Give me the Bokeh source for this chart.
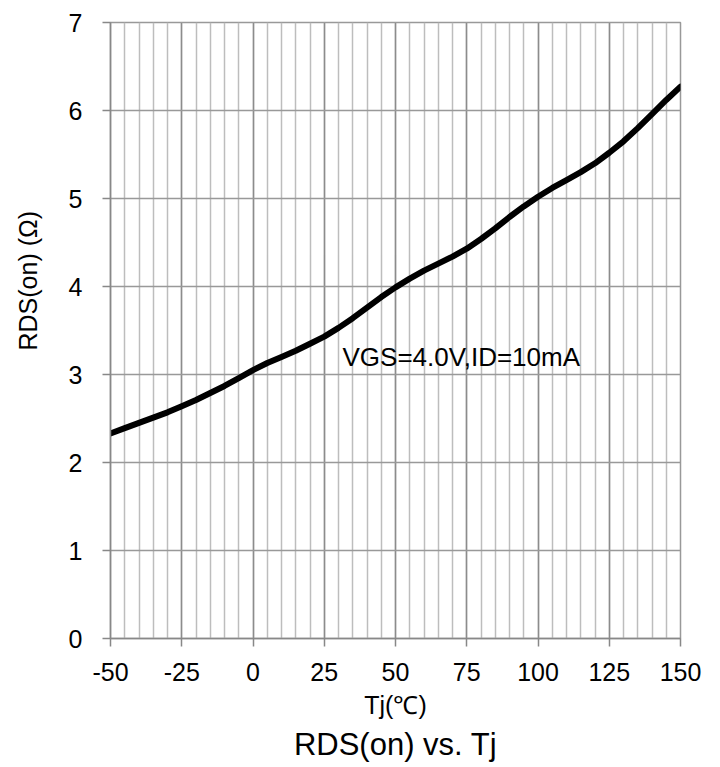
from bokeh.plotting import figure
from bokeh.models import (Range1d, SingleIntervalTicker, FixedTicker, Label, Title,
                          ColumnDataSource, LinearAxis)
from bokeh.embed import file_html
from bokeh.resources import INLINE

# Data
tj = [-50, -45, -40, -35, -30, -25, -20, -15, -10, -5, 0, 5, 10, 15, 20, 25, 30, 35, 40,
      45, 50, 55, 60, 65, 70, 75, 80, 85, 90, 95, 100, 105, 110, 115, 120, 125, 130,
      135, 140, 145, 150]
rds = [2.33, 2.39, 2.45, 2.51, 2.57, 2.64, 2.71, 2.79, 2.87, 2.96, 3.05, 3.13, 3.20,
       3.27, 3.35, 3.43, 3.53, 3.64, 3.76, 3.88, 3.99, 4.09, 4.18, 4.26, 4.34, 4.43,
       4.54, 4.66, 4.79, 4.91, 5.02, 5.12, 5.21, 5.30, 5.40, 5.52, 5.65, 5.80, 5.96,
       6.12, 6.27]
x_tick_labels = {-50: "-50", -25: "-25", 0: "0", 25: "25", 50: "50", 75: "75",
                 100: "100", 125: "125", 150: "150"}
y_ticks = [0, 1, 2, 3, 4, 5, 6, 7]

FONT = "Liberation Sans"

W, H = 712, 765
p = figure(width=W, height=H, output_backend="svg", toolbar_location=None,
           x_range=Range1d(-50, 150), y_range=Range1d(0, 7),
           min_border_left=110, min_border_right=32, min_border_top=22,
           min_border_bottom=H - 638, background_fill_color="white",
           border_fill_color="white")

p.xaxis.ticker = SingleIntervalTicker(interval=25, num_minor_ticks=5)
p.yaxis.ticker = FixedTicker(ticks=y_ticks)
p.xaxis.major_label_overrides = x_tick_labels

for ax in (p.xaxis[0], p.yaxis[0]):
    ax.axis_line_color = "#888888"
    ax.axis_line_width = 1.5
    ax.major_tick_line_color = "#888888"
    ax.major_tick_line_width = 1.5
    ax.major_tick_out = 8
    ax.major_tick_in = 0
    ax.minor_tick_line_color = None
    ax.major_label_text_font = FONT
    ax.major_label_text_font_size = "25px"
    ax.major_label_text_color = "black"

p.xaxis.axis_label = "Tj(℃)"
p.xaxis.axis_label_text_font = FONT
p.xaxis.axis_label_text_font_size = "25px"
p.xaxis.axis_label_text_font_style = "normal"
p.xaxis.axis_label_text_color = "black"
p.xaxis.major_label_standoff = 16
p.xaxis.axis_label_standoff = 7
p.yaxis.major_label_standoff = 20

# spacer axis (one invisible tick, no label) that pushes the y title outward
spacer = LinearAxis(ticker=FixedTicker(ticks=[0]), axis_line_color=None,
                    major_tick_line_color="#ffffff", major_tick_line_alpha=0.0,
                    minor_tick_line_color=None, major_label_overrides={0: ""},
                    major_label_standoff=0, major_tick_out=24, major_tick_in=0)
p.add_layout(spacer, "left")

p.add_layout(Title(text="RDS(on) (Ω)", text_font=FONT, text_font_size="25px",
                   text_font_style="normal", align="left", offset=288,
                   text_color="black", standoff=0), "left")

p.xgrid.grid_line_color = "#8c8c8c"
p.xgrid.grid_line_width = 1.5
p.xgrid.minor_grid_line_color = "#bdbdbd"
p.xgrid.minor_grid_line_width = 1.5
p.ygrid.grid_line_color = "#999999"
p.ygrid.grid_line_width = 1.5
p.outline_line_color = "#999999"
p.outline_line_width = 1.5

src = ColumnDataSource(dict(x=tj, y=rds))
p.line("x", "y", source=src, line_color="black", line_width=6, line_join="round",
       line_cap="round")

p.add_layout(Label(x=31.4, y=3.2, text="VGS=4.0V,ID=10mA", text_font=FONT,
                   text_font_size="26px", text_color="black",
                   text_baseline="alphabetic"))

p.add_layout(Title(text="RDS(on) vs. Tj", text_font=FONT, text_font_size="31px",
                   text_font_style="normal", align="center", text_color="black",
                   standoff=6), "below")

open("out.html", "w").write(file_html(p, INLINE))
